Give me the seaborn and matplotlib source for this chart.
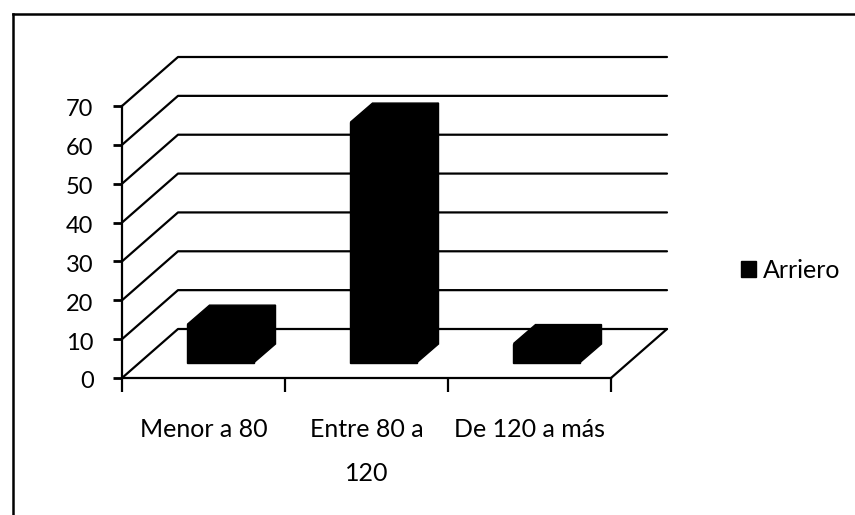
import matplotlib
matplotlib.use("Agg")
import matplotlib.pyplot as plt
import pandas as pd
import seaborn as sns
from matplotlib.patches import Polygon
from matplotlib.transforms import Affine2D

categories = ["Menor a 80", "Entre 80 a\n120", "De 120 a más"]
values = [10, 62, 5]
series_name = "Arriero"
y_ticks = [0, 10, 20, 30, 40, 50, 60, 70]

W, H = 855, 515
# front plane of the fake 3D box, in pixels
LEFT, RIGHT, TOP, BOTTOM = 122, 611, 106, 378

sns.set_theme(style="white")
plt.rcParams["font.family"] = ["Lato", "DejaVu Sans"]

fig = plt.figure(figsize=(W / 100, H / 100), dpi=100)

# frame of the chart area, only left and top fall inside the scan
frame = fig.add_axes([13 / W, 0, 1, 1 - 14 / H])
frame.set_xticks([])
frame.set_yticks([])
sns.despine(ax=frame, right=True, bottom=True, top=False)
for side in ["left", "top"]:
    frame.spines[side].set_color("black")
    frame.spines[side].set_linewidth(1.8)

ax = fig.add_axes([LEFT / W, 1 - BOTTOM / H, (RIGHT - LEFT) / W, (BOTTOM - TOP) / H])
ax.patch.set_alpha(0)

df = pd.DataFrame({"cat": categories, "val": values, "serie": series_name})

# pixels to data units
px_x = 3 / (RIGHT - LEFT)
px_y = 70 / (BOTTOM - TOP)
depth_x, depth_y = 56 * px_x, 49 * px_y
bar_dx, bar_dy = 22 * px_x, 19 * px_y
lift_x, lift_y = 17 * px_x, 15 * px_y

sns.barplot(data=df, x="cat", y="val", hue="serie", palette=["black"], width=0.405,
            ax=ax, zorder=3, saturation=1, edgecolor="black", linewidth=1.0)
ax.set_xlim(-0.5, 2.5)
ax.set_ylim(0, 70)

# back wall grid lines and the diagonals to the front axis
x0, x1 = -0.5, 2.5
for v in y_ticks:
    ax.plot([x0, x0 + depth_x, x1 + depth_x], [v, v + depth_y, v + depth_y],
            color="black", lw=1.6, clip_on=False, zorder=1)
# right edge of the floor
ax.plot([x1, x1 + depth_x], [0, depth_y], color="black", lw=1.6, clip_on=False, zorder=1)

# move the bars onto the floor and add top and side faces
for p in [b for b in ax.patches if b.get_width() > 0]:
    p.set_x(p.get_x() + lift_x)
    p.set_y(p.get_y() + lift_y)
    p.set_clip_on(False)
    xa, xb = p.get_x(), p.get_x() + p.get_width()
    yb, yt = p.get_y(), p.get_y() + p.get_height()
    top = [(xa, yt), (xa + bar_dx, yt + bar_dy), (xb + bar_dx, yt + bar_dy), (xb, yt)]
    side = [(xb, yb), (xb + bar_dx, yb + bar_dy), (xb + bar_dx, yt + bar_dy), (xb, yt)]
    for pts in (top, side):
        ax.add_patch(Polygon(pts, closed=True, facecolor="black", edgecolor="black",
                             lw=1.0, clip_on=False, zorder=3))

ax.set_xlabel("")
ax.set_ylabel("")
ax.set_yticks(y_ticks)
ax.set_xticks([-0.5, 0.5, 1.5, 2.5], minor=True)
ax.set_xticks([0, 1, 2])
ax.set_xticklabels(categories, linespacing=2.1)
ax.tick_params(axis="x", which="major", length=0, pad=29, labelsize=18, colors="black")
ax.tick_params(axis="x", which="minor", length=10, width=1.6, color="black", bottom=True)
ax.tick_params(axis="y", length=6.5, width=2, pad=14, labelsize=17, color="black",
               labelcolor="black", left=True)

# y labels sit a little under their ticks in the original
for lab in ax.get_yticklabels():
    lab.set_transform(lab.get_transform() + Affine2D().translate(0, -2))

sns.despine(ax=ax, top=True, right=True)
for side in ["left", "bottom"]:
    ax.spines[side].set_color("black")
    ax.spines[side].set_linewidth(1.6)
    ax.spines[side].set_zorder(2)

leg = ax.legend(loc="center left", bbox_to_anchor=(741 / W, 1 - 270 / H),
                bbox_transform=fig.transFigure, frameon=False, fontsize=18,
                handlelength=0.6, handleheight=0.6, handletextpad=0.28,
                borderpad=0, borderaxespad=0)
for t in leg.get_texts():
    t.set_color("black")

fig.savefig("out.png", dpi=100)
